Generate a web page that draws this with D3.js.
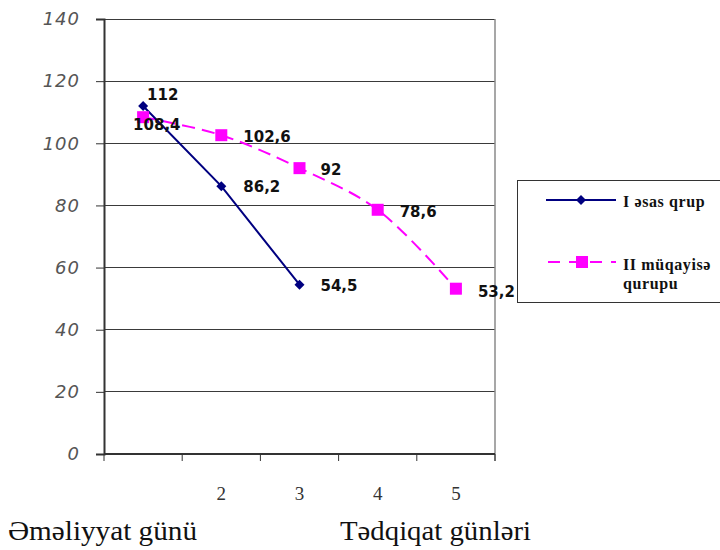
<!DOCTYPE html>
<html>
<head>
<meta charset="utf-8">
<script src="https://cdn.jsdelivr.net/npm/d3@7"></script>
<style>
  html, body { margin: 0; padding: 0; background: #fff; }
  svg { display: block; }
  .serif { font-family: "Times New Roman", serif; }
  .sans { font-family: "DejaVu Sans", Verdana, sans-serif; }
</style>
</head>
<body>
<svg id="chart" width="720" height="550"></svg>
<script>
// Categories on the x axis (first day has no printed label)
const days = [1, 2, 3, 4, 5];
const dayLabels = ["", "2", "3", "4", "5"];
// Series values
const groupI = [112, 86.2, 54.5];
const groupII = [108.4, 102.6, 92, 78.6, 53.2];
const groupINames = ["I əsas qrup"];
const groupIINames = ["II müqayisə", "qurupu"];
const yTicks = [0, 20, 40, 60, 80, 100, 120, 140];
const captions = ["Əməliyyat günü", "Tədqiqat günləri"];

const svg = d3.select("#chart");
const plotL = 104, plotR = 495, plotT = 19, plotB = 454;

const x = d3.scaleBand().domain(days).range([plotL, plotR]).paddingInner(0).paddingOuter(0);
const y = d3.scaleLinear().domain([0, 140]).range([plotB, plotT]);
const cx = d => x(d) + x.bandwidth() / 2;

// Gridlines
svg.append("g").selectAll("line").data(yTicks.filter(t => t > 0)).join("line")
  .attr("x1", plotL).attr("x2", plotR)
  .attr("y1", d => y(d)).attr("y2", d => y(d))
  .attr("stroke", "#3a3a3a").attr("stroke-width", 1).attr("shape-rendering", "crispEdges");

// Right border of the plot area
svg.append("line").attr("x1", plotR).attr("x2", plotR).attr("y1", plotT).attr("y2", plotB + 7)
  .attr("stroke", "#8a8a8a").attr("stroke-width", 1.5);

// Y axis
const yAxis = d3.axisLeft(y).tickValues(yTicks).tickSize(8).tickPadding(16);
const gy = svg.append("g").attr("transform", `translate(${plotL},0)`).call(yAxis);
gy.attr("font-family", null).attr("font-size", null);
gy.select(".domain").attr("stroke", "#333").attr("stroke-width", 2);
gy.selectAll(".tick line").attr("stroke", "#333");
gy.selectAll(".tick text").attr("class", "sans")
  .style("font-style", "italic").style("font-size", "18px").style("letter-spacing", "1px")
  .attr("fill", "#555");

// X axis: ticks on category boundaries
const xAxisG = svg.append("g");
xAxisG.append("line").attr("x1", plotL).attr("x2", plotR).attr("y1", plotB).attr("y2", plotB)
  .attr("stroke", "#333").attr("stroke-width", 2);
const bounds = days.map(d => x(d)).concat([plotR]);
xAxisG.selectAll("line.tk").data(bounds).join("line").attr("class", "tk")
  .attr("x1", d => d).attr("x2", d => d).attr("y1", plotB).attr("y2", plotB + 7)
  .attr("stroke", "#333").attr("stroke-width", 1);
xAxisG.selectAll("text").data(days).join("text").attr("class", "serif")
  .attr("x", d => cx(d)).attr("y", 500)
  .attr("text-anchor", "middle")
  .style("font-size", "19px").attr("fill", "#333")
  .text((d, i) => dayLabels[i]);

// Series II: smoothed dashed magenta line
const lineII = d3.line().x((d, i) => cx(days[i])).y(d => y(d)).curve(d3.curveCatmullRom.alpha(0.5));
svg.append("path").datum(groupII).attr("d", lineII)
  .attr("fill", "none").attr("stroke", "#ff00ff").attr("stroke-width", 2)
  .attr("stroke-dasharray", "13,7");

// Series I: straight navy line
const lineI = d3.line().x((d, i) => cx(days[i])).y(d => y(d));
svg.append("path").datum(groupI).attr("d", lineI)
  .attr("fill", "none").attr("stroke", "#000080").attr("stroke-width", 2);

// Markers
svg.append("g").selectAll("rect").data(groupII).join("rect")
  .attr("x", (d, i) => cx(days[i]) - 6).attr("y", d => y(d) - 6)
  .attr("width", 12).attr("height", 12).attr("fill", "#ff00ff");
const diamondPath = d3.symbol().type(d3.symbolSquare).size(50)();
svg.append("g").selectAll("path").data(groupI).join("path")
  .attr("transform", (d, i) => `translate(${cx(days[i])},${y(d)}) rotate(45)`)
  .attr("d", diamondPath)
  .attr("fill", "#000080");

// Data labels
const fmt = v => String(v).replace(".", ",");
const labelStyle = sel => sel.attr("class", "sans").style("font-weight", "bold")
  .style("font-size", "15px").attr("fill", "#111");
const offI = [[4, -6], [22, 6], [21, 6]];
const offII = [[-10, 13], [22, 7], [21, 7], [22, 7], [22, 8]];
svg.append("g").selectAll("text").data(groupII).join("text")
  .attr("x", (d, i) => cx(days[i]) + offII[i][0]).attr("y", (d, i) => y(d) + offII[i][1])
  .text(fmt).call(labelStyle);
svg.append("g").selectAll("text").data(groupI).join("text")
  .attr("x", (d, i) => cx(days[i]) + offI[i][0]).attr("y", (d, i) => y(d) + offI[i][1])
  .text(fmt).call(labelStyle);

// Legend
const lg = svg.append("g");
lg.append("rect").attr("x", 517.5).attr("y", 180.5).attr("width", 230).attr("height", 122)
  .attr("fill", "#fff").attr("stroke", "#333").attr("stroke-width", 1);
lg.append("line").attr("x1", 546).attr("x2", 616).attr("y1", 200).attr("y2", 200)
  .attr("stroke", "#000080").attr("stroke-width", 2);
lg.append("path").attr("transform", "translate(581,200) rotate(45)")
  .attr("d", diamondPath).attr("fill", "#000080");
lg.append("line").attr("x1", 546).attr("x2", 616).attr("y1", 262).attr("y2", 262)
  .attr("stroke", "#ff00ff").attr("stroke-width", 2).attr("stroke-dasharray", "12,9").attr("stroke-dashoffset", -2);
lg.append("rect").attr("x", 576).attr("y", 256).attr("width", 12).attr("height", 12).attr("fill", "#ff00ff");
const legendText = sel => sel.attr("class", "serif").style("font-weight", "bold")
  .style("font-size", "16px").style("letter-spacing", "0.6px").attr("fill", "#111");
lg.append("text").attr("x", 623).attr("y", 207).text(groupINames[0]).call(legendText);
lg.append("text").attr("x", 623).attr("y", 270).text(groupIINames[0]).call(legendText);
lg.append("text").attr("x", 623).attr("y", 289).text(groupIINames[1]).call(legendText);

// Bottom captions, stretched to their printed widths
const caption = sel => sel.attr("class", "serif").style("font-size", "27px").attr("fill", "#111")
  .attr("lengthAdjust", "spacingAndGlyphs");
svg.append("text").attr("x", 8).attr("y", 540).attr("textLength", 189).text(captions[0]).call(caption);
svg.append("text").attr("x", 340).attr("y", 540).attr("textLength", 191).text(captions[1]).call(caption);
</script>
</body>
</html>
